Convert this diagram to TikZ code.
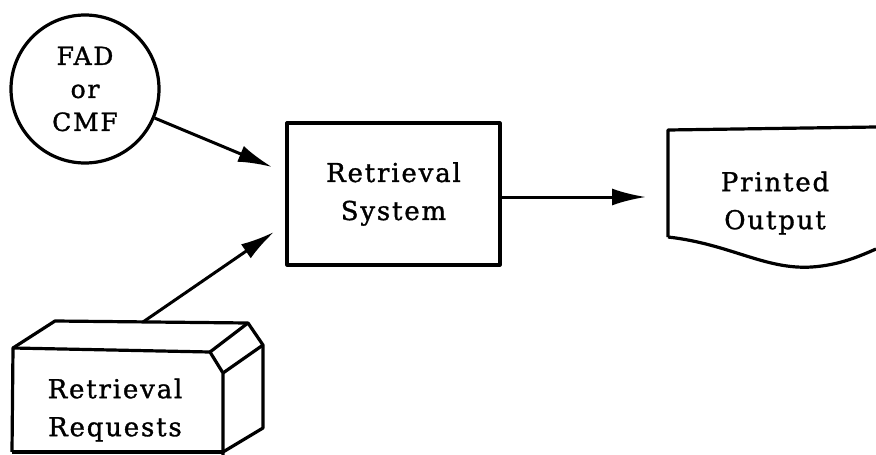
\documentclass[tikz,border=0pt]{standalone}
\usepackage{fontspec}
\setmainfont{DejaVu Serif}
\newfontfamily\diafont[LetterSpace=7,FakeBold=1.2]{DejaVu Serif}
\usetikzlibrary{arrows.meta}
\begin{document}
\begin{tikzpicture}[x=1pt,y=-1pt, line width=3.2pt, line join=round,
  lbl/.style={font=\diafont\fontsize{26}{38}\selectfont, align=center, inner sep=0pt},
  flow/.style={-{Latex[length=34pt,width=17pt]}, line width=3pt}]
\useasboundingbox (0,0) rectangle (876,455);
% source circle
\node[draw, circle, minimum size=148pt, lbl, font=\diafont\fontsize{25}{33}\selectfont] (fad) at (85,89) {FAD\\or\\CMF};
% retrieval system box
\node[draw, minimum width=213pt, minimum height=142pt, lbl] (sys) at (393.5,194) {Retrieval\\System};
% printed output (document shape)
\draw (668,237) -- (668,130) -- (876,127);
\draw (668,237) .. controls (730,244) and (765,270) .. (812,267) .. controls (840,265) and (860,256) .. (876,249);
\node[lbl] (out) at (775,203) {Printed\\Output};
% retrieval requests (card box)
\draw (12,452) -- (13,348) -- (210,352) -- (223,373) -- (223,455);
\draw (13,348) -- (55,321) -- (248,323) -- (263,345) -- (263,428) -- (223,452);
\draw (210,352) -- (248,323);
\draw (223,373) -- (263,345);
\draw (12,452) -- (223,452);
\node[lbl] (req) at (115,410) {Retrieval\\Requests};
% connector end points
\coordinate (a1end) at (272,167);
\coordinate (a2start) at (143,322);
\coordinate (a2end) at (274,232);
\coordinate (a3end) at (646,197);
\draw[flow] (fad) -- (a1end);
\draw[flow] (a2start) -- (a2end);
\draw[flow] (sys.east |- a3end) -- (a3end);
\end{tikzpicture}
\end{document}
